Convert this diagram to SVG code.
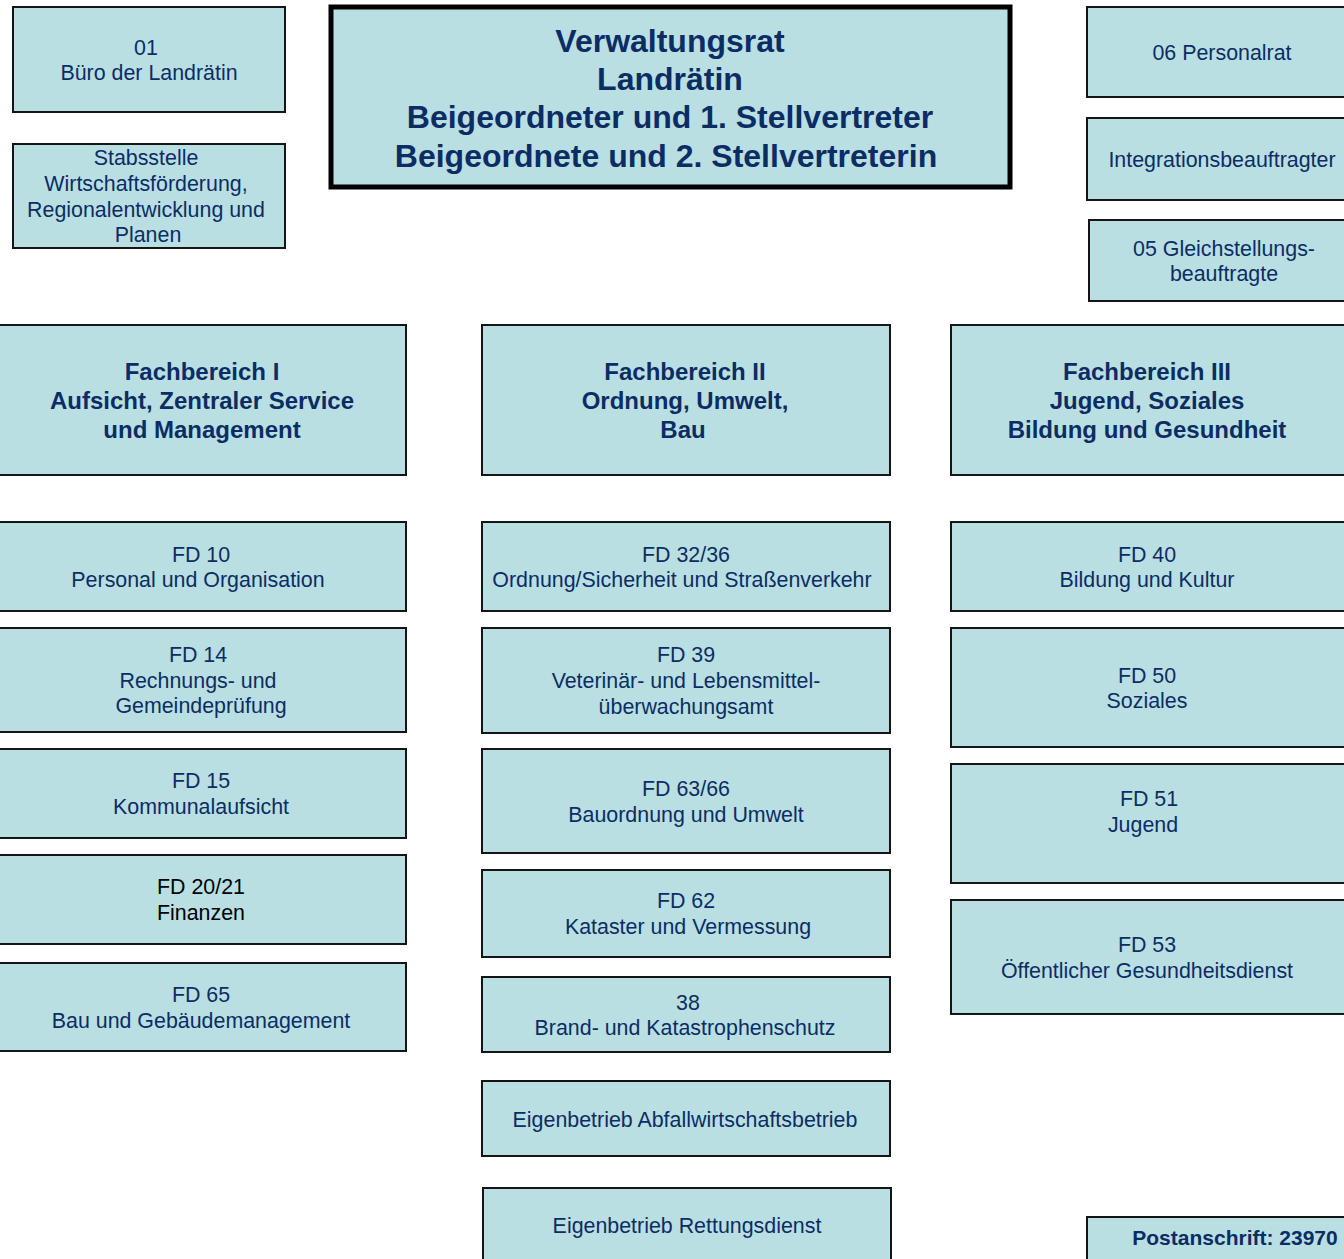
<svg xmlns="http://www.w3.org/2000/svg" width="1344" height="1259" viewBox="0 0 1344 1259">
<style>
.box{fill:#b9dfe3;stroke:#151515;stroke-width:2}
.head{fill:#b9dfe3;stroke:#000;stroke-width:5}
.t{font-family:"Liberation Sans",Arial,sans-serif;font-size:21.4px;fill:#0c2d63;text-anchor:middle}
.b{font-weight:bold}
.h{font-size:32px}
.f{font-size:24px}
.p{font-size:21px}
.k{fill:#000}
</style>
<rect width="1344" height="1259" fill="#fff"/>
<g id="connectors"/>
<g id="n01"><rect class="box" x="13" y="7" width="272" height="105"/>
<text class="t" x="146" y="55">01</text><text class="t" x="149" y="80">Büro der Landrätin</text></g>
<g id="stabsstelle"><rect class="box" x="13" y="144" width="272" height="104"/>
<text class="t" x="146" y="165">Stabsstelle</text><text class="t" x="146" y="191">Wirtschaftsförderung,</text><text class="t" x="146" y="217">Regionalentwicklung und</text><text class="t" x="148" y="242">Planen</text></g>
<g id="verwaltungsrat"><rect class="head" x="331" y="7" width="679" height="180"/>
<text class="t b h" x="670" y="52">Verwaltungsrat</text><text class="t b h" x="670" y="90">Landrätin</text><text class="t b h" x="670" y="128">Beigeordneter und 1. Stellvertreter</text><text class="t b h" x="666" y="167">Beigeordnete und 2. Stellvertreterin</text></g>
<g id="personalrat"><rect class="box" x="1087" y="7" width="270" height="90"/>
<text class="t" x="1222" y="60">06 Personalrat</text></g>
<g id="integration"><rect class="box" x="1087" y="118" width="270" height="82"/>
<text class="t" x="1222" y="167">Integrationsbeauftragter</text></g>
<g id="gleichstellung"><rect class="box" x="1089" y="220" width="270" height="81"/>
<text class="t" x="1224" y="256">05 Gleichstellungs-</text><text class="t" x="1224" y="281">beauftragte</text></g>
<g id="fb1"><rect class="box" x="-2" y="325" width="408" height="150"/>
<text class="t b f" x="202" y="380">Fachbereich I</text><text class="t b f" x="202" y="409">Aufsicht, Zentraler Service</text><text class="t b f" x="202" y="438">und Management</text></g>
<g id="fb2"><rect class="box" x="482" y="325" width="408" height="150"/>
<text class="t b f" x="685" y="380">Fachbereich II</text><text class="t b f" x="685" y="409">Ordnung, Umwelt,</text><text class="t b f" x="683" y="438">Bau</text></g>
<g id="fb3"><rect class="box" x="951" y="325" width="400" height="150"/>
<text class="t b f" x="1147" y="380">Fachbereich III</text><text class="t b f" x="1147" y="409">Jugend, Soziales</text><text class="t b f" x="1147" y="438">Bildung und Gesundheit</text></g>
<g id="fd10"><rect class="box" x="-2" y="522" width="408" height="89"/>
<text class="t" x="201" y="562">FD 10</text><text class="t" x="198" y="587">Personal und Organisation</text></g>
<g id="fd14"><rect class="box" x="-2" y="628" width="408" height="104"/>
<text class="t" x="198" y="662">FD 14</text><text class="t" x="198" y="688">Rechnungs- und</text><text class="t" x="201" y="713">Gemeindeprüfung</text></g>
<g id="fd15"><rect class="box" x="-2" y="749" width="408" height="89"/>
<text class="t" x="201" y="788">FD 15</text><text class="t" x="201" y="814">Kommunalaufsicht</text></g>
<g id="fd20"><rect class="box" x="-2" y="855" width="408" height="89"/>
<text class="t k" x="201" y="894">FD 20/21</text><text class="t k" x="201" y="920">Finanzen</text></g>
<g id="fd65"><rect class="box" x="-2" y="963" width="408" height="88"/>
<text class="t" x="201" y="1002">FD 65</text><text class="t" x="201" y="1028">Bau und Gebäudemanagement</text></g>
<g id="fd3236"><rect class="box" x="482" y="522" width="408" height="89"/>
<text class="t" x="686" y="562">FD 32/36</text><text class="t" x="682" y="587">Ordnung/Sicherheit und Straßenverkehr</text></g>
<g id="fd39"><rect class="box" x="482" y="628" width="408" height="105"/>
<text class="t" x="686" y="662">FD 39</text><text class="t" x="686" y="688">Veterinär- und Lebensmittel-</text><text class="t" x="686" y="714">überwachungsamt</text></g>
<g id="fd6366"><rect class="box" x="482" y="749" width="408" height="104"/>
<text class="t" x="686" y="796">FD 63/66</text><text class="t" x="686" y="822">Bauordnung und Umwelt</text></g>
<g id="fd62"><rect class="box" x="482" y="870" width="408" height="87"/>
<text class="t" x="686" y="908">FD 62</text><text class="t" x="688" y="934">Kataster und Vermessung</text></g>
<g id="n38"><rect class="box" x="482" y="977" width="408" height="75"/>
<text class="t" x="688" y="1010">38</text><text class="t" x="685" y="1035">Brand- und Katastrophenschutz</text></g>
<g id="abfall"><rect class="box" x="482" y="1081" width="408" height="75"/>
<text class="t" x="685" y="1127">Eigenbetrieb Abfallwirtschaftsbetrieb</text></g>
<g id="rettung"><rect class="box" x="483" y="1188" width="408" height="80"/>
<text class="t" x="687" y="1233">Eigenbetrieb Rettungsdienst</text></g>
<g id="fd40"><rect class="box" x="951" y="522" width="400" height="89"/>
<text class="t" x="1147" y="562">FD 40</text><text class="t" x="1147" y="587">Bildung und Kultur</text></g>
<g id="fd50"><rect class="box" x="951" y="628" width="400" height="119"/>
<text class="t" x="1147" y="683">FD 50</text><text class="t" x="1147" y="708">Soziales</text></g>
<g id="fd51"><rect class="box" x="951" y="764" width="400" height="119"/>
<text class="t" x="1149" y="806">FD 51</text><text class="t" x="1143" y="832">Jugend</text></g>
<g id="fd53"><rect class="box" x="951" y="900" width="400" height="114"/>
<text class="t" x="1147" y="952">FD 53</text><text class="t" x="1147" y="978">Öffentlicher Gesundheitsdienst</text></g>
<g id="postanschrift"><rect class="box" x="1087" y="1217" width="270" height="60"/>
<text class="t b p" x="1235" y="1245">Postanschrift: 23970</text></g>
</svg>
